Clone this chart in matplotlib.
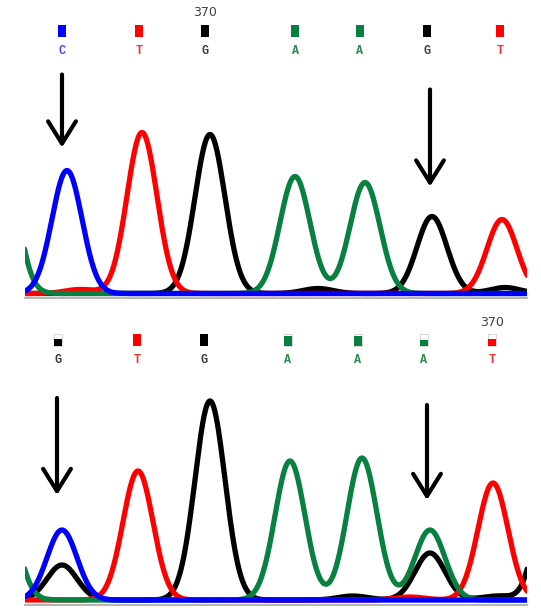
import numpy as np
import matplotlib

matplotlib.use("Agg")
import matplotlib.pyplot as plt  # noqa: E402
from matplotlib.patches import Rectangle  # noqa: E402

# ---- data (x in scan units, y in signal units) ----
# top trace (reference, C at arrow 1, G at arrow 2)
TOP_A_POS = [0, 295, 365]
TOP_A_HT = [170, 117, 111]
TOP_C_POS = [67]
TOP_C_HT = [123]
TOP_G_POS = [210, 432, 318, 505]
TOP_G_HT = [159, 77, 5, 6]
TOP_T_POS = [142, 502, 80]
TOP_T_HT = [161, 74, 4]
TOP_BASES = ["C", "T", "G", "A", "A", "G", "T"]
TOP_CALL_POS = [62, 139, 205, 295, 360, 427, 500]
TOP_QUAL = [1, 1, 1, 1, 1, 1, 1]
TOP_MARK = (205, "370")
TOP_ARROWS = [(62, 146, 219), (430, 107, 204)]

# bottom trace (heterozygous C/G and A/G)
BOT_A_POS = [0, 290, 362, 430]
BOT_A_HT = [120, 139, 142, 70]
BOT_C_POS = [62]
BOT_C_HT = [70]
BOT_G_POS = [62, 210, 430, 555, 353, 497]
BOT_G_HT = [35, 199, 47, 170, 4, 4]
BOT_T_POS = [138, 493, 410]
BOT_T_HT = [129, 117, 3]
BOT_BASES = ["G", "T", "G", "A", "A", "A", "T"]
BOT_CALL_POS = [58, 137, 204, 288, 358, 424, 492]
BOT_QUAL = [0.55, 1, 1, 0.8, 0.8, 0.5, 0.55]
BOT_MARK = (492, "370")
BOT_ARROWS = [(57, 105, 202), (427, 100, 195)]

COLORS = {"A": "#078040", "C": "#0000ff", "G": "#000000", "T": "#ff0000"}
TEXT_COLORS = {"A": "#2a8a4a", "C": "#4a4aff", "G": "#3a3a3a", "T": "#ff2a2a"}
SIGMA = 15.0


def trace(x, pos, ht):
    y = np.zeros_like(x)
    for p, h in zip(pos, ht):
        y += h * np.exp(-((x - p) ** 2) / (2 * SIGMA ** 2))
    return y


def panel(ax, chans, bases, calls, qual, mark, arrows, ylim, rows):
    x = np.linspace(-60, 620, 1400)
    for b in ["G", "T", "A", "C"]:
        pos, ht = chans[b]
        ax.plot(x, trace(x, pos, ht), color=COLORS[b], lw=3.8,
                solid_capstyle="round", solid_joinstyle="round")
    ax.set_xlim(25, 527)
    ax.set_ylim(*ylim)
    for s in ["top", "left", "right"]:
        ax.spines[s].set_visible(False)
    ax.spines["bottom"].set_color("#b4b4b4")
    ax.spines["bottom"].set_linewidth(1.4)
    ax.set_xticks([])
    ax.set_yticks([])

    y_letter, y_box, y_mark = rows
    for b, cx, q in zip(bases, calls, qual):
        ax.text(cx, y_letter, b, color=TEXT_COLORS[b], ha="center", va="center",
                fontsize=8.5, family="Liberation Mono", fontweight="bold",
                clip_on=False)
        w, h = 8, 12
        if q < 1:
            ax.add_patch(Rectangle((cx - w / 2, y_box - h / 2), w, h, fill=False,
                                   ec="#d0d0d0", lw=0.6, clip_on=False))
        ax.add_patch(Rectangle((cx - w / 2, y_box - h / 2), w, h * q,
                               color=COLORS[b], lw=0, clip_on=False))
    ax.text(mark[0], y_mark, mark[1], color="#404040", ha="center",
            va="center", fontsize=9, clip_on=False)

    for ax_x, tip, tail in arrows:
        ax.annotate("", xy=(ax_x, tip), xytext=(ax_x, tail),
                    arrowprops=dict(arrowstyle="->,head_length=0.8,head_width=0.5",
                                    color="black", lw=3, mutation_scale=20,
                                    shrinkA=0, shrinkB=0))


fig = plt.figure(figsize=(5.41, 6.08), dpi=100)
W, H = 541.0, 608.0

ax_top = fig.add_axes([25 / W, (H - 298) / H, 502 / W, 298 / H])
panel(ax_top,
      {"A": (TOP_A_POS, TOP_A_HT), "C": (TOP_C_POS, TOP_C_HT),
       "G": (TOP_G_POS, TOP_G_HT), "T": (TOP_T_POS, TOP_T_HT)},
      TOP_BASES, TOP_CALL_POS, TOP_QUAL, TOP_MARK, TOP_ARROWS,
      (-4.5, 293.5), (242.5, 262.5, 280.5))

ax_bot = fig.add_axes([25 / W, (H - 605) / H, 502 / W, 300 / H])
panel(ax_bot,
      {"A": (BOT_A_POS, BOT_A_HT), "C": (BOT_C_POS, BOT_C_HT),
       "G": (BOT_G_POS, BOT_G_HT), "T": (BOT_T_POS, BOT_T_HT)},
      BOT_BASES, BOT_CALL_POS, BOT_QUAL, BOT_MARK, BOT_ARROWS,
      (-5, 295), (240, 260, 278))

fig.savefig("out.png", dpi=100)
